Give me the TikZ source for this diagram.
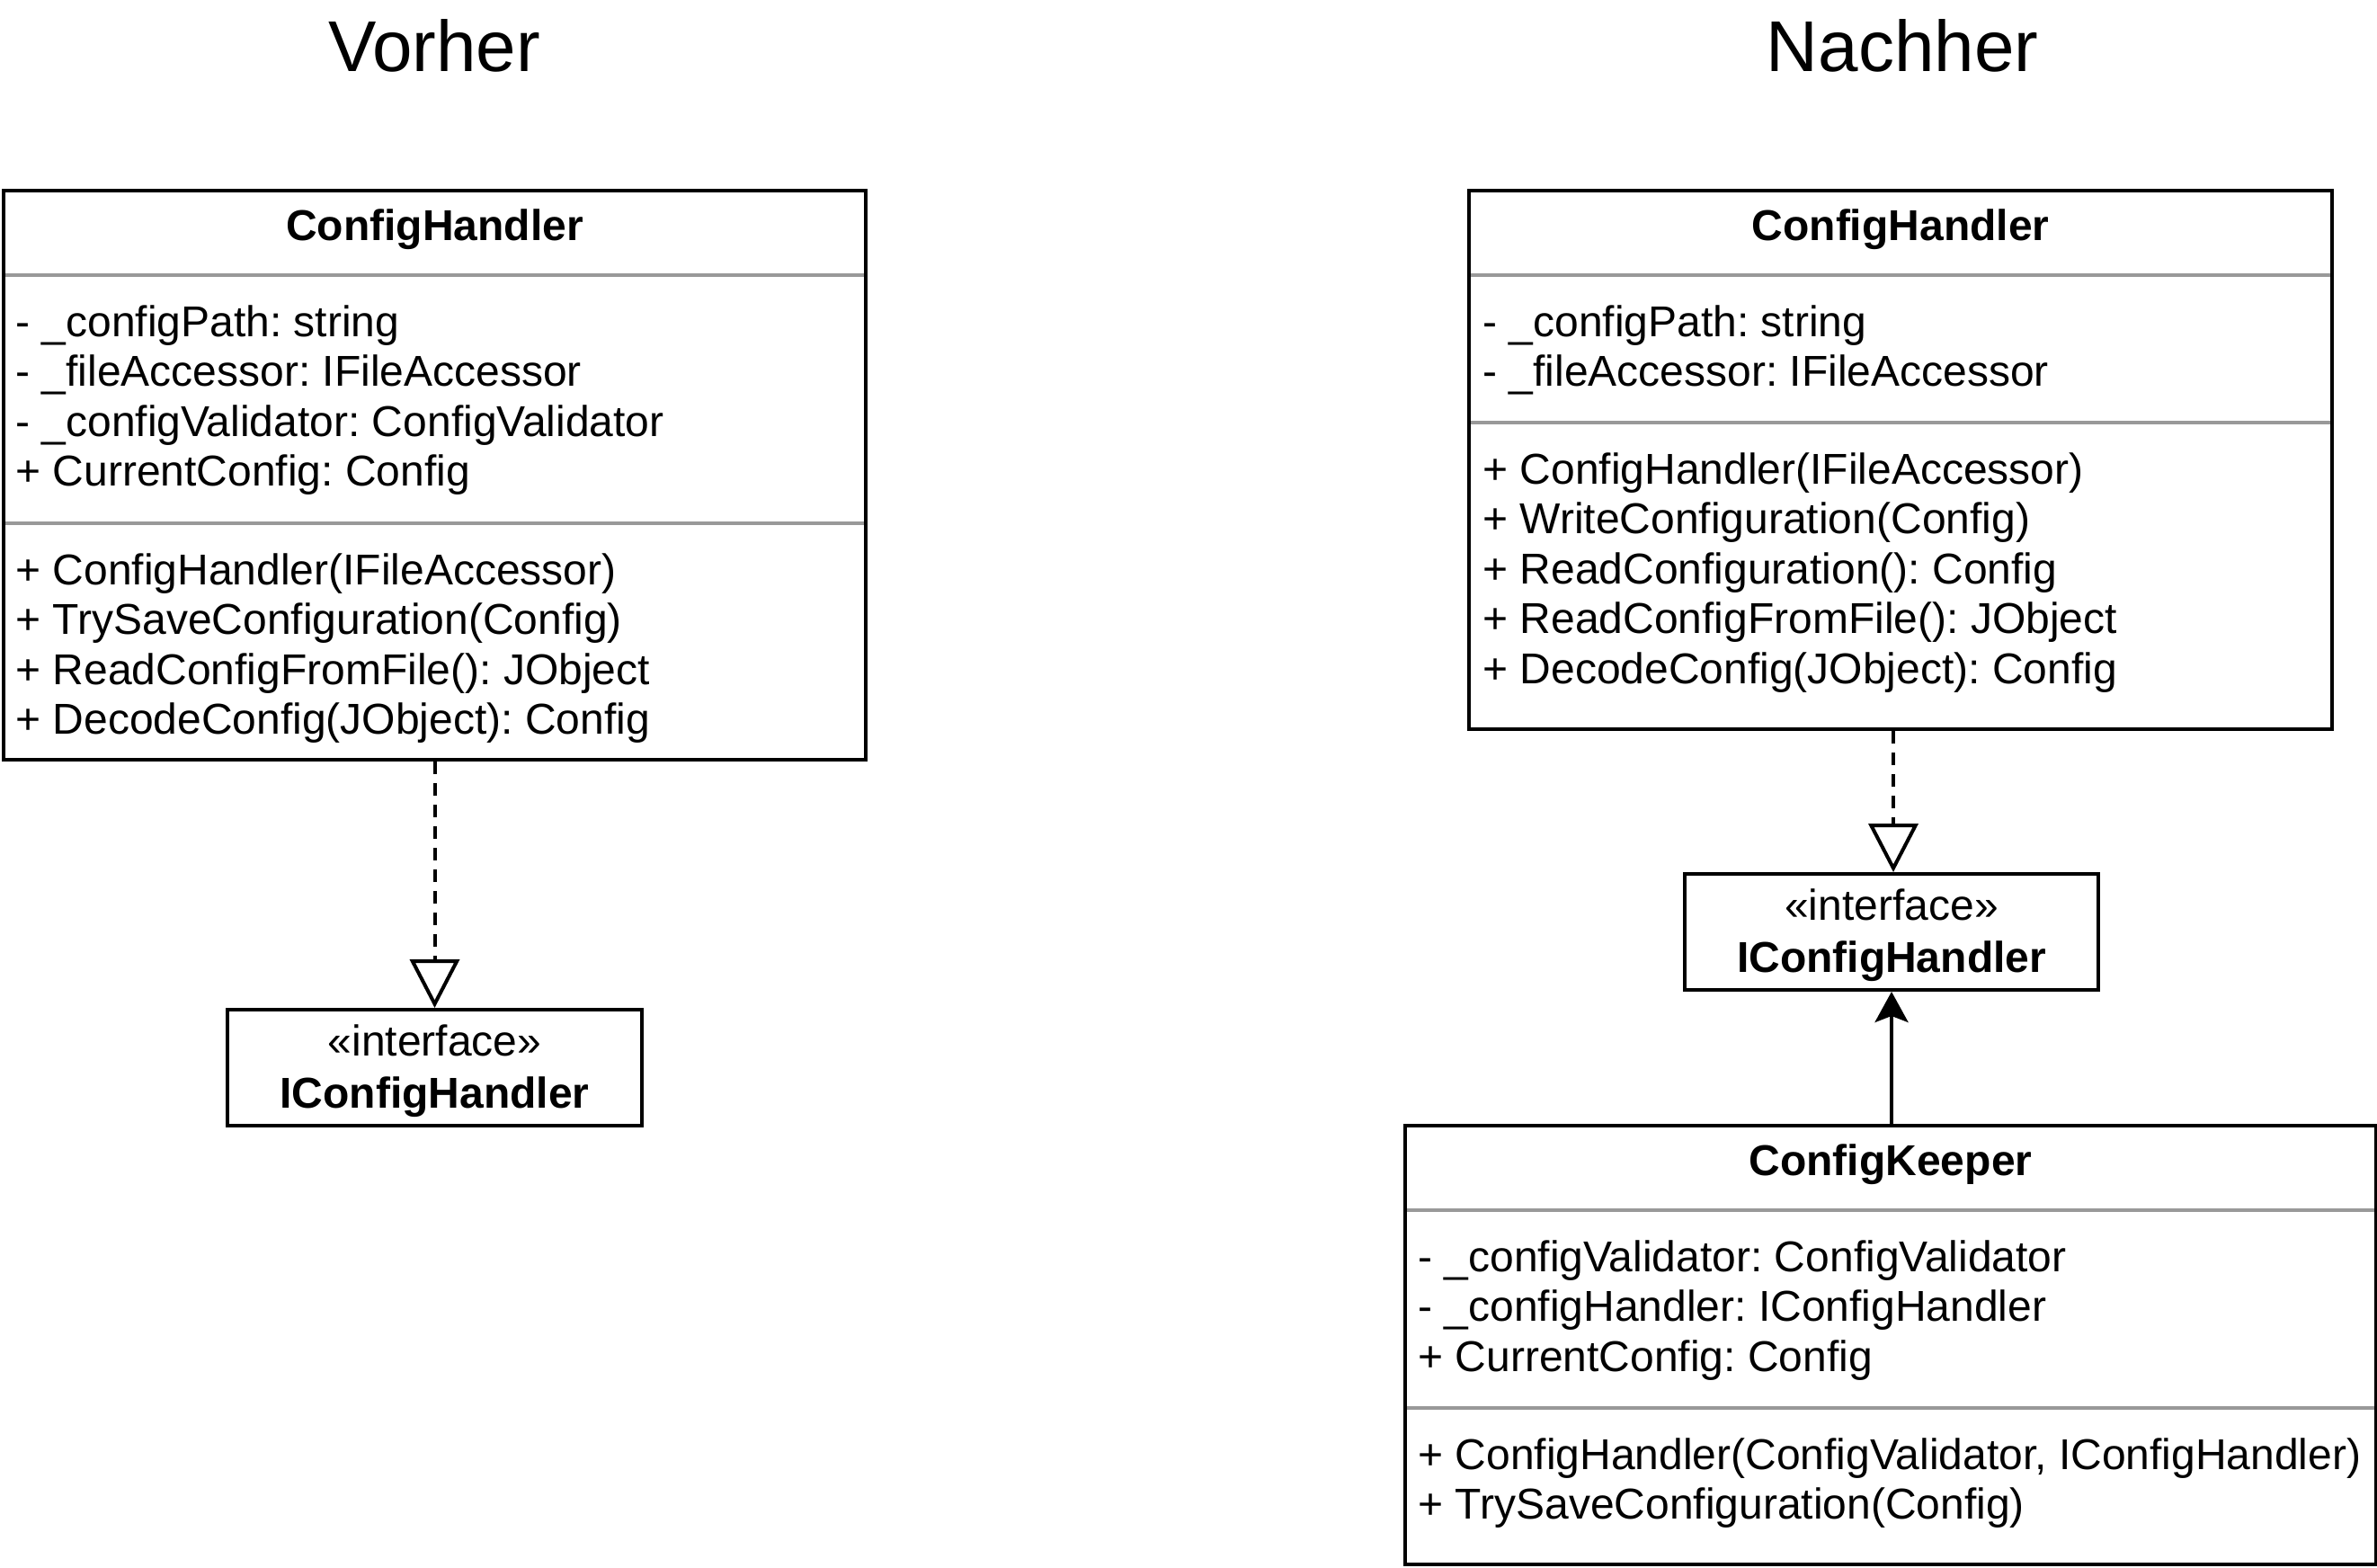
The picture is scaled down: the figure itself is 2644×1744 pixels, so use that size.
\documentclass[tikz,border=0pt]{standalone}
\usepackage{fontspec}
\setmainfont{Liberation Sans}
\usetikzlibrary{arrows.meta,backgrounds}
\frenchspacing
\definecolor{sepgray}{RGB}{153,153,153}
\newcommand\umlfont{\fontsize{24pt}{28pt}\selectfont}
\newcommand\headfont{\fontsize{40pt}{46pt}\selectfont}
\tikzset{
  classbox/.style={draw=black, line width=2pt, fill=none, inner sep=0pt, outer sep=1pt, anchor=north west},
  sepline/.style={draw=sepgray, line width=1.6pt},
  member/.style={anchor=base west, inner sep=0pt, font=\umlfont},
  cname/.style={anchor=base, inner sep=0pt, font=\umlfont\bfseries},
  stereo/.style={anchor=base, inner sep=0pt, font=\umlfont},
  heading/.style={anchor=center, inner sep=0pt, font=\headfont},
  realize/.style={line width=2pt, dash pattern=on 7pt off 5pt, -{Triangle[open, length=27pt, width=27.5pt]}},
  assoc/.style={line width=2pt, -{Stealth[length=17pt, width=18.5pt, inset=3.5pt]}}
}
\begin{document}
\begin{tikzpicture}[x=0.5pt, y=-0.5pt]
\useasboundingbox (0,0) rectangle (2644,1744);

% headings
\node[heading] (hVor) at (483,51) {Vorher};
\node[heading] (hNach) at (2116,51) {Nachher};

% ---------- left: ConfigHandler ----------
\node[classbox, minimum width=479.5pt, minimum height=316.5pt] (chL) at (2,210) {};
\begin{scope}[on background layer]
\draw[sepline] (chL.west |- 0,306) -- (chL.east |- 0,306);
\draw[sepline] (chL.west |- 0,582) -- (chL.east |- 0,582);
\end{scope}
\node[cname] (chLt) at (chL.north |- 0,268) {ConfigHandler};
\node[member] (chLa1) at (17,374) {- \_configPath: string};
\node[member] (chLa2) at (17,429.6) {- \_fileAccessor: IFileAccessor};
\node[member] (chLa3) at (17,485.2) {- \_configValidator: ConfigValidator};
\node[member] (chLa4) at (17,540.8) {+ CurrentConfig: Config};
\node[member] (chLm1) at (17,650) {+ ConfigHandler(IFileAccessor)};
\node[member] (chLm2) at (17,705.6) {+ TrySaveConfiguration(Config)};
\node[member] (chLm3) at (17,761.2) {+ ReadConfigFromFile(): JObject};
\node[member] (chLm4) at (17,816.8) {+ DecodeConfig(JObject): Config};

% ---------- left: IConfigHandler ----------
\node[classbox, minimum width=230.5pt, minimum height=64.5pt] (ifL) at (251,1121) {};
\node[stereo] (ifLs) at (ifL.north |- 0,1174) {«interface»};
\node[cname] (ifLn) at (ifL.north |- 0,1232) {IConfigHandler};

\draw[realize] (chL.south) -- (ifL.north);

% ---------- right: ConfigHandler ----------
\node[classbox, minimum width=480pt, minimum height=299.5pt] (chR) at (1632,210) {};
\begin{scope}[on background layer]
\draw[sepline] (chR.west |- 0,306) -- (chR.east |- 0,306);
\draw[sepline] (chR.west |- 0,470) -- (chR.east |- 0,470);
\end{scope}
\node[cname] (chRt) at (chR.north |- 0,268) {ConfigHandler};
\node[member] (chRa1) at (1649,374) {- \_configPath: string};
\node[member] (chRa2) at (1649,429.6) {- \_fileAccessor: IFileAccessor};
\node[member] (chRm1) at (1649,538) {+ ConfigHandler(IFileAccessor)};
\node[member] (chRm2) at (1649,593.6) {+ WriteConfiguration(Config)};
\node[member] (chRm3) at (1649,649.2) {+ ReadConfiguration(): Config};
\node[member] (chRm4) at (1649,704.8) {+ ReadConfigFromFile(): JObject};
\node[member] (chRm5) at (1649,760.4) {+ DecodeConfig(JObject): Config};

% ---------- right: IConfigHandler ----------
\node[classbox, minimum width=230pt, minimum height=64.5pt] (ifR) at (1872,970) {};
\node[stereo] (ifRs) at (ifR.north |- 0,1023) {«interface»};
\node[cname] (ifRn) at (ifR.north |- 0,1081) {IConfigHandler};

% ---------- right: ConfigKeeper ----------
\node[classbox, minimum width=540pt, minimum height=244pt] (ckR) at (1561,1250) {};
\begin{scope}[on background layer]
\draw[sepline] (ckR.west |- 0,1346) -- (ckR.east |- 0,1346);
\draw[sepline] (ckR.west |- 0,1566) -- (ckR.east |- 0,1566);
\end{scope}
\node[cname] (ckRt) at (ckR.north |- 0,1307) {ConfigKeeper};
\node[member] (ckRa1) at (1577,1414) {- \_configValidator: ConfigValidator};
\node[member] (ckRa2) at (1577,1469.6) {- \_configHandler: IConfigHandler};
\node[member] (ckRa3) at (1577,1525.2) {+ CurrentConfig: Config};
\node[member] (ckRm1) at (1577,1634) {+ ConfigHandler(ConfigValidator, IConfigHandler)};
\node[member] (ckRm2) at (1577,1689.6) {+ TrySaveConfiguration(Config)};

% connectors
\draw[realize] ([xshift=1pt]ifR.north |- chR.south) -- ([xshift=1pt]ifR.north);
\draw[assoc] (ifR.south |- ckR.north) -- (ifR.south);
\end{tikzpicture}
\end{document}
